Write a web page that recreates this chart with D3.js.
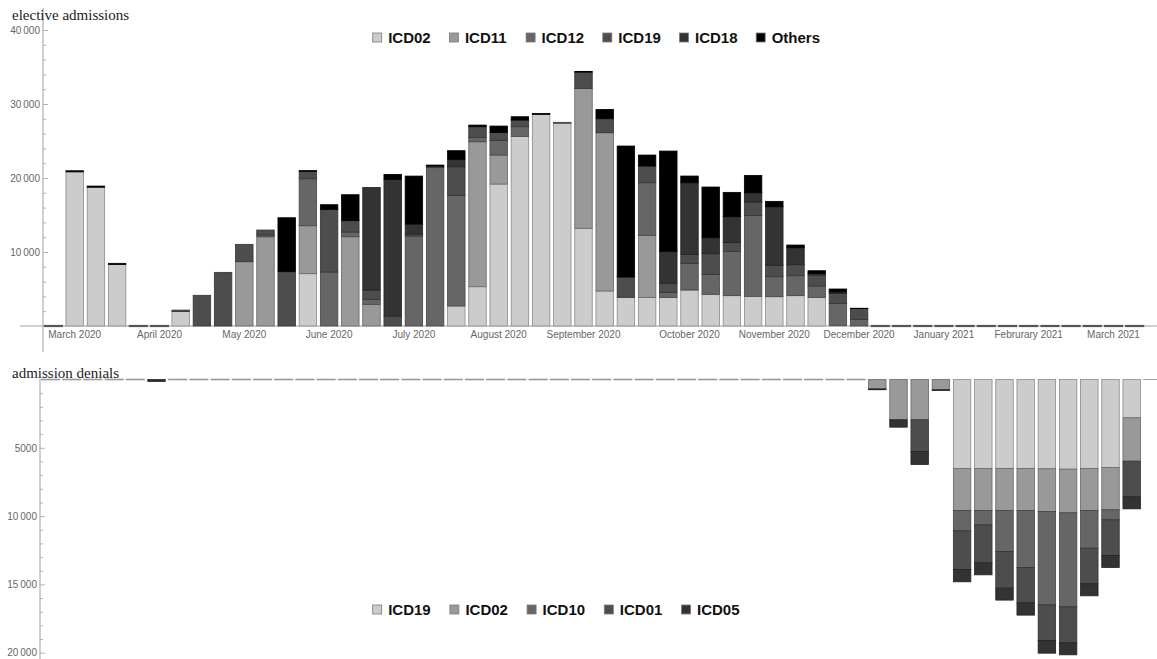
<!DOCTYPE html>
<html>
<head>
<meta charset="utf-8">
<script src="https://cdn.jsdelivr.net/npm/d3@7"></script>
<style>
  html, body { margin: 0; padding: 0; background: #fff; }
  svg { display: block; }
</style>
</head>
<body>
<svg id="chart" width="1157" height="659"></svg>
<script>
// Weekly buckets, March 2020 – March 2021
const weeks = ["W01","W02","W03","W04","W05","W06","W07","W08","W09","W10","W11","W12","W13",
  "W14","W15","W16","W17","W18","W19","W20","W21","W22","W23","W24","W25","W26",
  "W27","W28","W29","W30","W31","W32","W33","W34","W35","W36","W37","W38","W39",
  "W40","W41","W42","W43","W44","W45","W46","W47","W48","W49","W50","W51","W52"];

const tickWeeks = ["W02","W06","W10","W14","W18","W22","W26","W31","W35","W39","W43","W47","W51"];
const monthLabels = ["March 2020","April 2020","May 2020","June 2020","July 2020","August 2020",
  "September 2020","October 2020","November 2020","December 2020","January 2021",
  "Februrary 2021","March 2021"];

// Elective admissions per week and diagnosis group
const admKeys = ["ICD02","ICD11","ICD12","ICD19","ICD18","Others"];
const admICD02 = [0,20830,18750,8300,0,0,1950,0,0,0,0,0,7070,0,0,0,0,0,0,2700,5310,19180,25625,28600,27400,13200,
  4730,3870,3870,3870,4860,4280,4100,4010,3960,4100,3870,100,0,0,0,0,0,0,0,0,0,0,0,0,0,0];
const admICD11 = [0,0,0,0,0,0,0,0,0,8690,12050,0,6480,0,12065,2930,0,0,0,0,19590,3920,0,0,0,18910,
  21390,0,8380,0,0,0,0,0,0,0,0,0,0,0,0,0,0,0,0,0,0,0,0,0,0,0];
const admICD12 = [0,0,0,0,0,0,0,0,0,0,250,0,6350,7300,635,670,0,12160,21400,14950,590,1985,1305,0,120,0,
  0,0,7110,680,3610,2700,5990,10940,2700,2700,1530,2960,900,0,0,0,0,0,0,0,0,0,0,0,0,0];
const admICD19 = [0,0,0,0,0,0,200,4150,7250,2345,670,7340,1000,8460,1530,1260,1350,250,200,3870,1440,1075,900,0,0,2200,
  1890,2750,2260,1220,1215,2790,1210,1800,1540,1480,1490,1350,1450,0,0,0,0,0,0,0,0,0,0,0,0,0];
const admICD18 = [0,0,0,0,0,0,0,0,0,0,0,0,0,0,0,13870,18460,1370,0,1000,0,0,0,0,0,0,
  0,0,0,4320,9675,2160,3470,1260,7920,2300,200,200,0,0,0,0,0,0,0,0,0,0,0,0,0,0];
const admOthers = [0,150,160,170,0,0,0,0,0,0,0,7290,100,630,3510,0,680,6480,150,1170,220,860,450,130,0,100,
  1260,17700,1480,13550,905,6850,3290,2345,725,360,380,390,50,0,0,0,0,0,0,0,0,0,0,0,0,0];

// Admission denials per week and diagnosis group
const denKeys = ["ICD19","ICD02","ICD10","ICD01","ICD05"];
const denICD19 = [0,0,0,0,0,0,0,0,0,0,0,0,0,0,0,0,0,0,0,0,0,0,0,0,0,0,
  0,0,0,0,0,0,0,0,0,0,0,0,0,0,0,0,0,6515,6515,6515,6515,6540,6565,6515,6440,2805];
const denICD02 = [0,0,0,0,0,0,0,0,0,0,0,0,0,0,0,0,0,0,0,0,0,0,0,0,0,0,
  0,0,0,0,0,0,0,0,0,0,0,0,0,690,2950,2950,750,3075,3075,3075,3075,3120,3195,3075,3100,3175];
const denICD10 = [0,0,0,0,0,0,0,0,0,0,0,0,0,0,0,0,0,0,0,0,0,0,0,0,0,0,
  0,0,0,0,0,0,0,0,0,0,0,0,0,0,0,0,0,1490,1050,3000,4170,6835,6880,2760,730,0];
const denICD01 = [0,0,0,0,0,0,0,0,0,0,0,0,0,0,0,0,0,0,0,0,0,0,0,0,0,0,
  0,0,0,0,0,0,0,0,0,0,0,0,0,0,0,2320,0,2830,2780,2685,2590,2610,2635,2605,2610,2610];
const denICD05 = [0,0,0,0,0,150,0,0,0,0,0,0,0,0,0,0,0,0,0,0,0,0,0,0,0,0,
  0,0,0,0,0,0,0,0,0,0,0,0,0,60,540,950,60,900,880,875,900,930,880,880,880,880];

const admTicks = [10000, 20000, 30000, 40000];
const denTicks = [5000, 10000, 15000, 20000];

const admColors = ["#cccccc","#999999","#666666","#4d4d4d","#333333","#000000"];
const denColors = ["#cccccc","#999999","#666666","#4d4d4d","#333333"];

const svg = d3.select("#chart");
const labelFont = "Liberation Sans, Arial, sans-serif";
const titleFont = "Liberation Serif, Times New Roman, serif";
const axisGray = "#a0a0a0";
const textGray = "#666666";

const fmt = v => v >= 10000 ? d3.format(",")(v).replace(/,/g, "\u2009") : String(v);

function panel(opts) {
  const { keys, series, colors, x, y, axisX, axisTop, axisBottom, majorTicks, minorStep,
          maxVal, zeroColor, zeroHeight, dir } = opts;
  const rows = weeks.map((w, i) => {
    const r = { week: w };
    keys.forEach((k, j) => r[k] = series[j][i]);
    return r;
  });
  const stacked = d3.stack().keys(keys)(rows);
  const g = svg.append("g");

  // weeks with no cases show as a thin mark on the baseline
  const totals = rows.map(r => d3.sum(keys, k => r[k]));
  g.append("g").selectAll("rect")
    .data(rows.filter((r, i) => totals[i] === 0))
    .join("rect")
    .attr("x", d => x(d.week) - 0.8)
    .attr("width", x.bandwidth() + 1.6)
    .attr("y", y(0) - zeroHeight / 2)
    .attr("height", zeroHeight)
    .attr("fill", zeroColor);

  // stacked segments
  stacked.forEach((layer, j) => {
    g.append("g").selectAll("rect")
      .data(layer.filter(d => d[1] - d[0] > 0))
      .join("rect")
      .attr("x", d => x(d.data.week))
      .attr("width", x.bandwidth())
      .attr("y", d => Math.min(y(d[0]), y(d[1])))
      .attr("height", d => Math.abs(y(d[1]) - y(d[0])))
      .attr("fill", colors[j])
      .attr("stroke", d3.color(colors[j]).darker(1.1).formatHex())
      .attr("stroke-width", 0.8);
  });

  // vertical axis: major ticks with labels, minor ticks in between
  const major = (dir > 0 ? d3.axisLeft(y) : d3.axisLeft(y))
    .tickValues(majorTicks).tickFormat(fmt).tickSizeInner(-5).tickSizeOuter(0).tickPadding(3);
  const minorVals = d3.range(minorStep, maxVal + 1, minorStep).filter(v => !majorTicks.includes(v));
  const minor = d3.axisLeft(y).tickValues(minorVals).tickFormat("").tickSizeInner(-3).tickSizeOuter(0);

  const ax = g.append("g").attr("transform", `translate(${axisX},0)`);
  ax.append("g").call(minor);
  ax.append("g").call(major);
  ax.selectAll(".domain").remove();
  ax.selectAll("line").attr("stroke", axisGray).attr("stroke-width", 0.8);
  ax.selectAll("text").attr("fill", textGray).attr("font-family", labelFont).attr("font-size", 10);
  ax.append("line").attr("x1", 0).attr("x2", 0).attr("y1", axisTop).attr("y2", axisBottom)
    .attr("stroke", axisGray).attr("stroke-width", 1);
  return g;
}

// ---- elective admissions (upwards) ----
const xAdm = d3.scaleBand().domain(weeks).range([42.9, 1145.3]).paddingInner(0.175).paddingOuter(0.0875);
const yAdm = d3.scaleLinear().domain([0, 40000]).range([326, 30]);

svg.append("line").attr("x1", 20).attr("x2", 1157).attr("y1", yAdm(0)).attr("y2", yAdm(0))
  .attr("stroke", axisGray).attr("stroke-width", 1);

panel({ keys: admKeys, series: [admICD02, admICD11, admICD12, admICD19, admICD18, admOthers],
  colors: admColors, x: xAdm, y: yAdm, axisX: 43, axisTop: 8, axisBottom: 352,
  majorTicks: admTicks, minorStep: 2000, maxVal: 40000, zeroColor: "#555555", zeroHeight: 2.2, dir: 1 });

const monthAxis = d3.axisBottom(xAdm).tickValues(tickWeeks)
  .tickFormat((d, i) => monthLabels[i]).tickSize(0).tickPadding(4.4);
const mg = svg.append("g").attr("transform", `translate(0,${yAdm(0)})`).call(monthAxis);
mg.select(".domain").remove();
mg.selectAll("text").attr("fill", textGray).attr("font-family", labelFont).attr("font-size", 10);

// ---- admission denials (downwards) ----
const xDen = d3.scaleBand().domain(weeks).range([39.9, 1142.3]).paddingInner(0.175).paddingOuter(0.0875);
const yDen = d3.scaleLinear().domain([0, 20000]).range([379.5, 652.7]);

svg.append("line").attr("x1", 1143).attr("x2", 1157).attr("y1", yDen(0)).attr("y2", yDen(0))
  .attr("stroke", axisGray).attr("stroke-width", 1);

panel({ keys: denKeys, series: [denICD19, denICD02, denICD10, denICD01, denICD05],
  colors: denColors, x: xDen, y: yDen, axisX: 40, axisTop: 379, axisBottom: 659,
  majorTicks: denTicks, minorStep: 1000, maxVal: 20000, zeroColor: "#9a9a9a", zeroHeight: 1.6, dir: -1 });

// ---- titles ----
svg.append("text").attr("x", 12).attr("y", 20).text("elective admissions")
  .attr("font-family", titleFont).attr("font-size", 15).attr("fill", "#222");
svg.append("text").attr("x", 12).attr("y", 378).text("admission denials")
  .attr("font-family", titleFont).attr("font-size", 15).attr("fill", "#222");

// ---- legends ----
function legend(keys, colors, x0, step, cy) {
  const lg = svg.append("g");
  const items = lg.selectAll("g").data(keys).join("g")
    .attr("transform", (d, i) => `translate(${x0 + i * step},${cy})`);
  items.append("rect").attr("x", 0).attr("y", -4.5).attr("width", 9).attr("height", 9)
    .attr("fill", (d, i) => colors[i]).attr("stroke", "#7a7a7a").attr("stroke-width", 0.8);
  items.append("text").attr("x", 15.5).attr("dy", "0.36em").text(d => d)
    .attr("font-family", labelFont).attr("font-weight", "bold").attr("font-size", 15).attr("fill", "#111");
}
legend(admKeys, admColors, 372.7, 76.7, 37.5);
legend(denKeys, denColors, 372.7, 77.2, 609.5);
</script>
</body>
</html>
